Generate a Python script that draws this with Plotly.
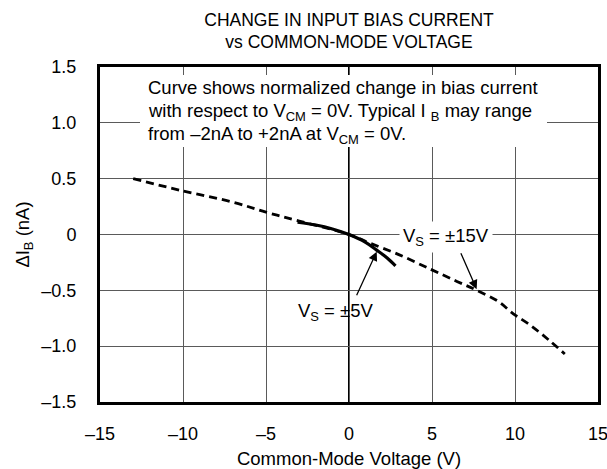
import plotly.graph_objects as go

# Data
vcm_15 = [-13, -10, -7, -5, -3, 0, 1.3, 3, 4.9, 6.5, 7.7, 9, 9.9, 10.9, 12, 13]
dib_15 = [0.5, 0.39, 0.29, 0.2, 0.12, 0.0, -0.08, -0.18, -0.31, -0.42, -0.5, -0.6, -0.71, -0.81, -0.94, -1.07]
vcm_5 = [-3.1, -2, -1, 0, 1, 1.67, 2.3, 2.8]
dib_5 = [0.11, 0.085, 0.05, 0.0, -0.07, -0.14, -0.21, -0.28]

x_ticks = [-15, -10, -5, 0, 5, 10, 15]
x_labels = ["–15", "–10", "–5", "0", "5", "10", "15"]
y_ticks = [1.5, 1.0, 0.5, 0, -0.5, -1.0, -1.5]
y_labels = ["1.5", "1.0", "0.5", "0", "–0.5", "–1.0", "–1.5"]

note_lines = [
    "Curve shows normalized change in bias current",
    "with respect to V<sub>CM</sub> = 0V. Typical I <sub>B</sub> may range",
    "from –2nA to +2nA at V<sub>CM</sub> = 0V.",
]

FONT = "Liberation Sans, Arial, sans-serif"
FS_TITLE = 17.5
FS_TICK = 18
FS_TEXT = 18.5

W, H = 607, 469

fig = go.Figure()
fig.add_trace(go.Scatter(x=vcm_15, y=dib_15, mode="lines", line=dict(color="black", width=2.8, dash="8px,5px"),
                         line_shape="spline", showlegend=False, hoverinfo="skip"))
fig.add_trace(go.Scatter(x=vcm_5, y=dib_5, mode="lines", line=dict(color="black", width=3.2),
                         line_shape="spline", showlegend=False, hoverinfo="skip"))

shapes = [dict(type="line", xref="x", yref="y", x0=0, x1=0, y0=-1.5, y1=1.5,
               line=dict(color="black", width=2), layer="below")]

annotations = []
# white panel behind the note
annotations.append(dict(x=-0.33, y=1.106, xref="x", yref="y", text=" ", showarrow=False,
                        width=407, height=72, bgcolor="white", borderpad=0, borderwidth=0))
for yv, t in zip([1.312, 1.097, 0.891], note_lines):
    annotations.append(dict(x=-12.2, y=yv, xref="x", yref="y", text=t, showarrow=False,
                            xanchor="left", yanchor="middle", font=dict(size=FS_TEXT, color="black", family=FONT)))

annotations.append(dict(x=5.85, y=-0.02, xref="x", yref="y", text="V<sub>S</sub> = ±15V", showarrow=False,
                        bgcolor="white", borderpad=3, font=dict(size=FS_TEXT, color="black", family=FONT)))
annotations.append(dict(x=-0.8, y=-0.69, xref="x", yref="y", text="V<sub>S</sub> = ±5V", showarrow=False,
                        font=dict(size=FS_TEXT, color="black", family=FONT)))
annotations.append(dict(x=7.69, y=-0.49, ax=6.7, ay=-0.154, xref="x", yref="y", axref="x", ayref="y",
                        text="", showarrow=True, arrowhead=2, arrowsize=1.4, arrowwidth=1.3, arrowcolor="black"))
annotations.append(dict(x=1.67, y=-0.154, ax=0.42, ay=-0.557, xref="x", yref="y", axref="x", ayref="y",
                        text="", showarrow=True, arrowhead=2, arrowsize=1.4, arrowwidth=1.3, arrowcolor="black"))

axis_common = dict(showgrid=True, gridcolor="#5a5a5a", gridwidth=1, zeroline=False, ticks="",
                   showline=True, mirror=True, linecolor="black", linewidth=3, automargin=False,
                   ticklabeloverflow="allow", tickfont=dict(size=FS_TICK))

fig.update_layout(
    width=W, height=H,
    margin=dict(l=100, r=9, t=67, b=67),
    paper_bgcolor="white", plot_bgcolor="white",
    font=dict(family=FONT, size=FS_TICK, color="black"),
    title=dict(text="CHANGE IN INPUT BIAS CURRENT<br>vs COMMON-MODE VOLTAGE", x=349 / W, xanchor="center",
               xref="container", y=1 - 25.5 / H, yanchor="middle", yref="container",
               font=dict(size=FS_TITLE, family=FONT, color="black")),
    xaxis=dict(range=[-15, 15], tickvals=x_ticks, ticktext=x_labels, ticklabelstandoff=13,
               title=dict(text="Common-Mode Voltage (V)", standoff=13, font=dict(size=FS_TEXT)),
               **axis_common),
    yaxis=dict(range=[-1.5, 1.5], tickvals=y_ticks, ticktext=y_labels, ticklabelstandoff=17,
               title=dict(text="ΔI<sub>B</sub> (nA)", standoff=7, font=dict(size=FS_TEXT)),
               **axis_common),
    shapes=shapes,
    annotations=annotations,
)

# Remove the default page margin so the 607x469 figure fills the window exactly.
fig.write_html("out.html", config={"displayModeBar": False},
               post_script="document.body.style.margin='0';"
                           "document.documentElement.style.overflow='hidden';")
